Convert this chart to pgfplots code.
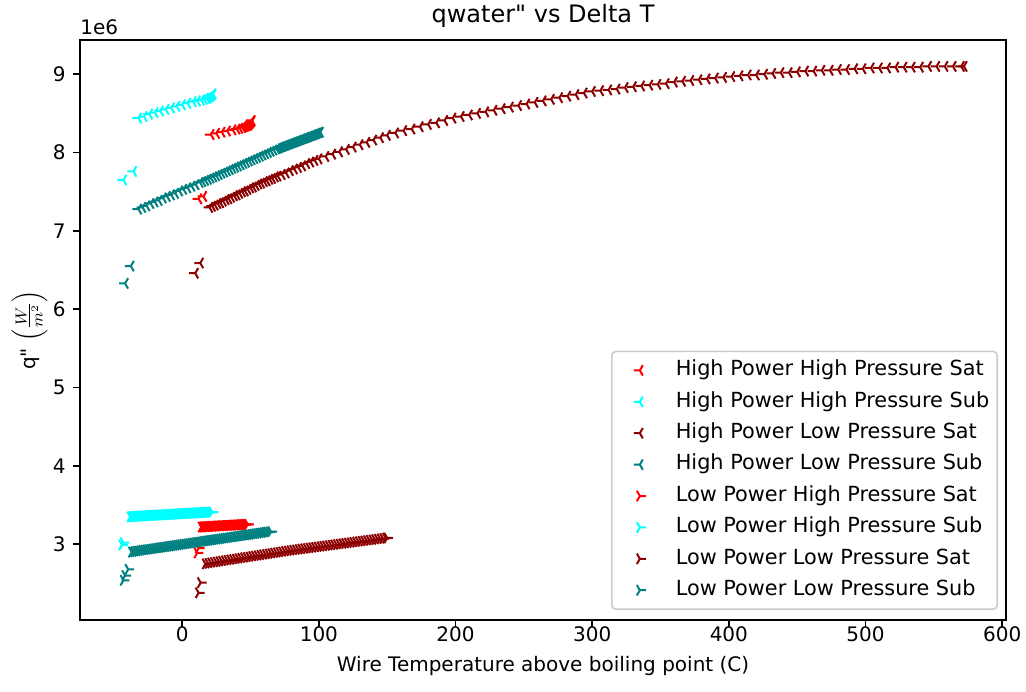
\documentclass[border=0pt]{standalone}
\usepackage{fontspec}
\setmainfont{DejaVu Sans}
\usepackage{pgfplots}
\pgfplotsset{compat=1.18}
\usetikzlibrary{plotmarks}

\definecolor{mplred}{RGB}{255,0,0}
\definecolor{mplcyan}{RGB}{0,255,255}
\definecolor{mpldarkred}{RGB}{139,0,0}
\definecolor{mplteal}{RGB}{0,128,128}

% matplotlib tri_left / tri_right markers
\pgfplotsset{
  triL/.style={only marks, color=#1, mark=Mercedes star, mark size=3pt,
    mark options={rotate=90, line width=1pt}},
  triR/.style={only marks, color=#1, mark=Mercedes star, mark size=3pt,
    mark options={rotate=-90, line width=1pt}},
}

\begin{document}
\begin{tikzpicture}
\path[use as bounding box] (-40pt,-35.5pt) rectangle (473pt,310pt);
\begin{axis}[
  at={(0pt,0pt)}, anchor=south west,
  scale only axis, width=463pt, height=290pt,
  xmin=-74.8, xmax=602.8, ymin=2.033, ymax=9.437,
  xtick={0,100,200,300,400,500,600},
  ytick={3,4,5,6,7,8,9},
  tick pos=left, tick align=outside,
  major tick length=3.5pt,
  every tick/.style={black, line width=0.8pt},
  axis line style={black, line width=0.8pt},
  /pgf/number format/assume math mode=true,
  tick label style={font=\fontsize{10}{12}\selectfont},
  xticklabel style={anchor=north, inner sep=0pt, yshift=0.5pt},
  yticklabel style={anchor=east, inner sep=0pt, xshift=-3.5pt},
  xlabel={Wire Temperature above boiling point (C)},
  xlabel style={at={(axis description cs:0.5,-0.0883)}, anchor=base, inner sep=0pt},
  ylabel={q\textquotedbl{} {\fontsize{11}{13}\selectfont$\left(\frac{W}{m^2}\right)$}},
  ylabel style={at={(axis description cs:-0.0345,0.5)}, anchor=south, inner sep=0pt},
  clip=false,
  legend cell align=left,
  legend image code/.code={%
    \path[draw=none, fill=none] (0pt,-0.5pt) rectangle (20pt,0.5pt);
    \draw[#1,/tikz/only marks] plot coordinates {(10pt,0pt)};},
  legend style={at={(axis description cs:0.99136,0.01724)}, anchor=south east,
    draw=black!20, line width=0.8pt, rounded corners=2pt,
    fill=white, fill opacity=0.8, text opacity=1,
    inner xsep=4pt, inner ysep=4.5pt, row sep=5.7pt, column sep=8pt,
    nodes={inner sep=0pt, text height=7.6pt, text depth=2.4pt},
    font=\fontsize{10.4}{12}\selectfont},
]
\node[anchor=base west, inner sep=0pt] at (axis description cs:0,1.0103) {1e6};
\node[anchor=base, inner sep=0pt, font=\fontsize{12}{14}\selectfont]
  at (axis description cs:0.5,1.0307) {qwater\textquotedbl{} vs Delta T};

% High Power High Pressure Sat
\addplot[triL=mplred] coordinates {
(12,7.41)(15.6,7.44)
(21,8.23)(25,8.245)(29,8.26)(33,8.275)(37,8.29)(40,8.30)(42,8.31)(44,8.32)
(45,8.33)(46,8.335)(47,8.34)(48,8.345)(48.5,8.35)(49,8.36)(49.5,8.37)(50,8.38)
(50.5,8.39)(51,8.40)(51,8.41)};
\addlegendentry{High Power High Pressure Sat}

% High Power High Pressure Sub
\addplot[triL=mplcyan] coordinates {
(-43,7.65)(-35.7,7.76)
(-32,8.44)(-28,8.46)(-24,8.49)(-20,8.51)(-16,8.53)(-12,8.55)(-8,8.57)(-4,8.59)
(0,8.61)(4,8.63)(8,8.65)(11,8.66)(14,8.67)(16,8.68)(18,8.69)(19,8.70)
(20,8.71)(21,8.72)(21.5,8.73)(22,8.74)(22.5,8.75)};
\addlegendentry{High Power High Pressure Sub}

% High Power Low Pressure Sat
\addplot[triL=mpldarkred] coordinates {
(9.5,6.46)(13.2,6.59)
(20,7.30)(22,7.315)(24,7.33)(26,7.35)(28,7.36)(30,7.38)(32,7.40)(34,7.41)
(36,7.43)(38,7.45)(40,7.46)(42,7.48)(44,7.50)(46,7.51)(48,7.53)(50,7.55)
(52,7.56)(54,7.58)(56,7.60)(58,7.61)(60,7.63)(62,7.64)(64,7.66)(66,7.67)
(68,7.69)(70,7.70)(73,7.72)(76,7.74)(79,7.77)(82,7.79)(85,7.81)(88,7.83)
(91,7.86)(94,7.88)(97,7.90)(100,7.92)(105,7.95)(110,7.98)(115,8.01)(120,8.04)
(125,8.07)(130,8.10)(135,8.13)(140,8.16)(145,8.19)(150,8.22)(156,8.25)(162,8.28)
(168,8.30)(174,8.33)(180,8.36)(186,8.38)(192,8.41)(198,8.44)(204,8.46)(210,8.48)
(216,8.50)(222,8.52)(228,8.54)(234,8.56)(240,8.58)(246,8.60)(252,8.62)(258,8.64)
(264,8.66)(270,8.68)(276,8.70)(282,8.72)(288,8.74)(294,8.76)(300,8.78)(306,8.79)
(312,8.80)(318,8.81)(324,8.83)(330,8.84)(336,8.85)(342,8.86)(348,8.87)(354,8.88)
(360,8.90)(366,8.91)(372,8.92)(378,8.93)(384,8.94)(390,8.95)(396,8.96)(402,8.97)
(408,8.98)(414,8.99)(420,8.99)(426,9.00)(432,9.01)(438,9.02)(444,9.02)(450,9.03)
(456,9.04)(462,9.04)(468,9.05)(474,9.05)(480,9.06)(486,9.06)(492,9.07)(498,9.07)
(504,9.08)(510,9.08)(516,9.08)(522,9.09)(528,9.09)(534,9.09)(540,9.09)(546,9.10)
(552,9.10)(558,9.10)(564,9.10)(570,9.10)(572,9.10)};
\addlegendentry{High Power Low Pressure Sat}

% High Power Low Pressure Sub
\addplot[triL=mplteal] coordinates {
(-41.8,6.33)(-37.6,6.55)
(-32,7.278)(-29,7.30)(-26,7.32)(-23,7.35)(-20,7.37)(-17,7.39)(-14,7.42)(-11,7.44)
(-8,7.46)(-5,7.48)(-2,7.51)(1,7.53)(4,7.55)(7,7.57)(10,7.59)(13,7.62)
(15,7.63)(17,7.645)(19,7.66)(21,7.675)(23,7.69)(25,7.705)(27,7.72)(29,7.737)
(31,7.752)(33,7.768)(35,7.784)(37,7.80)(39,7.815)(41,7.83)(43,7.846)(45,7.862)
(47,7.877)(49,7.893)(51,7.908)(53,7.924)(55,7.94)(57,7.955)(59,7.97)(61,7.986)
(63,8.002)(65,8.017)(67,8.033)(69,8.048)(70,8.056)(71,8.063)(72,8.07)(73,8.077)
(74,8.083)(75,8.09)(76,8.096)(77,8.103)(78,8.11)(79,8.116)(80,8.123)(81,8.13)
(82,8.136)(83,8.143)(84,8.149)(85,8.156)(86,8.162)(87,8.169)(88,8.176)(89,8.182)
(90,8.189)(91,8.195)(92,8.202)(93,8.209)(94,8.215)(95,8.222)(96,8.228)(97,8.235)
(98,8.241)(99,8.248)(100,8.254)(101,8.26)};
\addlegendentry{High Power Low Pressure Sub}

% Low Power High Pressure Sat
\addplot[triR=mplred] coordinates {
(11,2.89)(12,2.95)
(14,3.220)(15,3.221)(16,3.222)(17,3.223)(18,3.224)(19,3.225)(20,3.226)(21,3.227)
(22,3.228)(23,3.229)(24,3.230)(25,3.231)(26,3.232)(27,3.233)(28,3.234)(29,3.235)
(30,3.236)(31,3.237)(32,3.238)(33,3.239)(34,3.240)(35,3.241)(36,3.242)(37,3.243)
(38,3.244)(39,3.245)(40,3.246)(41,3.247)(42,3.248)(43,3.249)(44,3.250)(45,3.251)
(46,3.252)(47,3.253)(48,3.254)};
\addlegendentry{Low Power High Pressure Sat}

% Low Power High Pressure Sub
\addplot[triR=mplcyan] coordinates {
(-44,2.99)(-43,3.02)
(-38,3.350)(-37,3.352)(-36,3.353)(-35,3.354)(-34,3.355)(-33,3.356)(-32,3.357)(-31,3.358)
(-30,3.359)(-29,3.360)(-28,3.361)(-27,3.362)(-26,3.363)(-25,3.364)(-24,3.365)(-23,3.366)
(-22,3.367)(-21,3.368)(-20,3.369)(-19,3.370)(-18,3.371)(-17,3.372)(-16,3.373)(-15,3.374)
(-14,3.375)(-13,3.376)(-12,3.377)(-11,3.378)(-10,3.379)(-9,3.380)(-8,3.381)(-7,3.382)
(-6,3.383)(-5,3.384)(-4,3.385)(-3,3.386)(-2,3.387)(-1,3.388)(0,3.389)(1,3.390)
(2,3.391)(3,3.392)(4,3.393)(5,3.394)(6,3.395)(7,3.396)(8,3.397)(9,3.398)
(10,3.399)(11,3.400)(12,3.401)(13,3.402)(14,3.403)(15,3.404)(16,3.405)(17,3.406)
(18,3.407)(19,3.408)(20,3.409)(21,3.410)(22,3.411)};
\addlegendentry{Low Power High Pressure Sub}

% Low Power Low Pressure Sat
\addplot[triR=mpldarkred] coordinates {
(12,2.38)(13.5,2.51)
(17,2.750)(19,2.755)(21,2.761)(23,2.766)(25,2.772)(27,2.777)(29,2.782)(31,2.788)
(33,2.793)(35,2.799)(37,2.804)(39,2.809)(41,2.815)(43,2.820)(45,2.826)(47,2.831)
(49,2.836)(51,2.842)(53,2.847)(55,2.853)(57,2.858)(59,2.863)(61,2.869)(63,2.874)
(65,2.880)(67,2.885)(69,2.890)(71,2.896)(73,2.901)(75,2.907)(77,2.912)(79,2.917)
(81,2.922)(83,2.927)(85,2.932)(87,2.936)(89,2.941)(91,2.945)(93,2.950)(95,2.954)
(97,2.959)(99,2.963)(101,2.968)(103,2.973)(105,2.977)(107,2.982)(109,2.986)(111,2.991)
(113,2.995)(115,3.000)(117,3.005)(119,3.009)(121,3.014)(123,3.018)(125,3.023)(127,3.027)
(129,3.032)(131,3.037)(133,3.041)(135,3.046)(137,3.050)(139,3.055)(141,3.059)(143,3.064)
(145,3.069)(147,3.073)(149,3.078)(150,3.080)};
\addlegendentry{Low Power Low Pressure Sat}

% Low Power Low Pressure Sub
\addplot[triR=mplteal] coordinates {
(-43,2.54)(-41.8,2.60)(-39.5,2.68)
(-37,2.900)(-35.5,2.904)(-34,2.908)(-32.5,2.911)(-31,2.915)(-29.5,2.919)(-28,2.923)(-26.5,2.927)
(-25,2.931)(-23.5,2.934)(-22,2.938)(-20.5,2.942)(-19,2.946)(-17.5,2.950)(-16,2.954)(-14.5,2.957)
(-13,2.961)(-11.5,2.965)(-10,2.969)(-8.5,2.973)(-7,2.977)(-5.5,2.980)(-4,2.984)(-2.5,2.988)
(-1,2.992)(0.5,2.996)(2,3.000)(3.5,3.003)(5,3.007)(6.5,3.011)(8,3.015)(9.5,3.019)
(11,3.023)(12.5,3.026)(14,3.030)(15.5,3.034)(17,3.038)(18.5,3.042)(20,3.046)(21.5,3.049)
(23,3.053)(24.5,3.057)(26,3.061)(27.5,3.065)(29,3.069)(30.5,3.072)(32,3.076)(33.5,3.080)
(35,3.084)(36.5,3.088)(38,3.092)(39.5,3.095)(41,3.099)(42.5,3.103)(44,3.107)(45.5,3.111)
(47,3.115)(48.5,3.118)(50,3.122)(51.5,3.126)(53,3.130)(54.5,3.134)(56,3.138)(57.5,3.141)
(59,3.145)(60.5,3.149)(62,3.153)(63.5,3.157)(65,3.161)};
\addlegendentry{Low Power Low Pressure Sub}
\end{axis}
\end{tikzpicture}
\end{document}
